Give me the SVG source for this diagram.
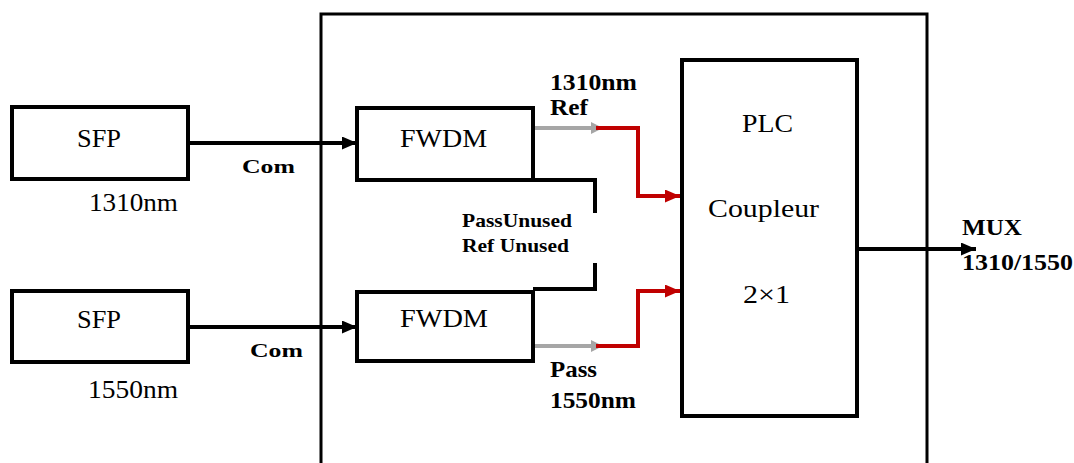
<svg xmlns="http://www.w3.org/2000/svg" width="1074" height="463" viewBox="0 0 1074 463">
<style>
.box{fill:#fff;stroke:#000;stroke-width:4}
.t{font-family:'Liberation Serif','DejaVu Serif',serif;font-size:26px;fill:#000}
.b{font-family:'Liberation Serif','DejaVu Serif',serif;font-weight:bold;font-size:23px;fill:#000}
.s{font-family:'Liberation Serif','DejaVu Serif',serif;font-weight:bold;font-size:19px;fill:#000}
.blk{fill:none;stroke:#000;stroke-width:4}
.gry{fill:none;stroke:#a6a6a6;stroke-width:4}
.red{fill:none;stroke:#c00000;stroke-width:4}
</style>
<defs>
<marker id="ab" markerUnits="userSpaceOnUse" markerWidth="15" markerHeight="13" refX="15" refY="6.5" orient="auto"><path d="M0,0 L15,6.5 L0,13 Z" fill="#000"/></marker>
<marker id="ag" markerUnits="userSpaceOnUse" markerWidth="12" markerHeight="12" refX="12" refY="6" orient="auto"><path d="M0,0 L12,6 L0,12 Z" fill="#a6a6a6"/></marker>
<marker id="ar" markerUnits="userSpaceOnUse" markerWidth="15" markerHeight="13" refX="15" refY="6.5" orient="auto"><path d="M0,0 L15,6.5 L0,13 Z" fill="#c00000"/></marker>
</defs>
<rect width="1074" height="463" fill="#fff"/>
<g id="enclosure"><path d="M321,470 V14 H927 V470" fill="none" stroke="#000" stroke-width="3"/></g>
<g id="connectors">
<line class="blk" x1="188" y1="143" x2="357" y2="143" marker-end="url(#ab)"/>
<line class="blk" x1="188" y1="327" x2="357" y2="327" marker-end="url(#ab)"/>
<line class="gry" x1="533" y1="128" x2="603" y2="128" marker-end="url(#ag)"/>
<line class="gry" x1="533" y1="346" x2="603" y2="346" marker-end="url(#ag)"/>
<path class="red" d="M596,128 H638 V196 H680" marker-end="url(#ar)"/>
<path class="red" d="M596,346 H638 V291 H680" marker-end="url(#ar)"/>
<path class="blk" d="M533,180 H595 V213"/>
<path class="blk" d="M595,263 V289 H533"/>
<line class="blk" x1="857" y1="249" x2="976" y2="249" marker-end="url(#ab)"/>
</g>
<g id="sfp1"><rect class="box" x="12" y="107" width="176" height="72"/><text class="t" x="77" y="146.5" textLength="44" lengthAdjust="spacingAndGlyphs">SFP</text><text class="t" x="89" y="211" textLength="89" lengthAdjust="spacingAndGlyphs">1310nm</text></g>
<g id="sfp2"><rect class="box" x="12" y="291" width="176" height="71"/><text class="t" x="77" y="328" textLength="44" lengthAdjust="spacingAndGlyphs">SFP</text><text class="t" x="88" y="398" textLength="90" lengthAdjust="spacingAndGlyphs">1550nm</text></g>
<g id="fwdm1"><rect class="box" x="357" y="108" width="176" height="72"/><text class="t" x="400" y="146.5" textLength="87" lengthAdjust="spacingAndGlyphs">FWDM</text></g>
<g id="fwdm2"><rect class="box" x="357" y="292" width="176" height="69"/><text class="t" x="400" y="327" textLength="88" lengthAdjust="spacingAndGlyphs">FWDM</text></g>
<g id="plc"><rect class="box" x="682" y="60" width="175" height="356"/><text class="t" x="742" y="132" textLength="51" lengthAdjust="spacingAndGlyphs">PLC</text><text class="t" x="708" y="217" textLength="111" lengthAdjust="spacingAndGlyphs">Coupleur</text><text class="t" x="743" y="303" textLength="47" lengthAdjust="spacingAndGlyphs">2×1</text></g>
<g id="labels">
<text class="s" x="242" y="173" textLength="53" lengthAdjust="spacingAndGlyphs">Com</text>
<text class="s" x="250" y="357" textLength="53" lengthAdjust="spacingAndGlyphs">Com</text>
<text class="b" x="550" y="90" textLength="87" lengthAdjust="spacingAndGlyphs">1310nm</text>
<text class="b" x="550" y="114.5" textLength="38" lengthAdjust="spacingAndGlyphs">Ref</text>
<text class="s" x="462" y="227" textLength="110" lengthAdjust="spacingAndGlyphs">PassUnused</text>
<text class="s" x="462" y="252" textLength="107" lengthAdjust="spacingAndGlyphs">Ref Unused</text>
<text class="b" x="550" y="377" textLength="47" lengthAdjust="spacingAndGlyphs">Pass</text>
<text class="b" x="550" y="408" textLength="86" lengthAdjust="spacingAndGlyphs">1550nm</text>
<text class="b" x="962" y="235" textLength="60" lengthAdjust="spacingAndGlyphs">MUX</text>
<text class="b" x="962" y="270" textLength="111" lengthAdjust="spacingAndGlyphs">1310/1550</text>
</g>
</svg>
